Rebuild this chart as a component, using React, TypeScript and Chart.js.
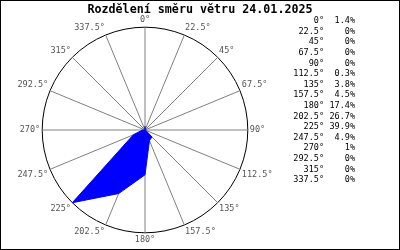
import React, { useEffect, useRef } from "react";
import { Chart, registerables } from "chart.js";

Chart.register(...registerables);

const titleText = "Rozdělení směru větru 24.01.2025";
const directions = ["0°", "22.5°", "45°", "67.5°", "90°", "112.5°", "135°", "157.5°", "180°", "202.5°", "225°", "247.5°", "270°", "292.5°", "315°", "337.5°"];
const values = [1.4, 0, 0, 0, 0, 0.3, 3.8, 4.5, 17.4, 26.7, 39.9, 4.9, 1, 0, 0, 0];
const valueLabels = ["1.4%", "0%", "0%", "0%", "0%", "0.3%", "3.8%", "4.5%", "17.4%", "26.7%", "39.9%", "4.9%", "1%", "0%", "0%", "0%"];

const MONO = '"DejaVu Sans Mono", "Liberation Mono", monospace';

const extras = {
  id: "extras",
  beforeDraw(chart: any) {
    const ctx = chart.ctx;
    ctx.save();
    ctx.fillStyle = "#ffffff";
    ctx.fillRect(0, 0, chart.width, chart.height);
    ctx.restore();
  },
  afterDraw(chart: any) {
    const ctx = chart.ctx;
    ctx.save();
    ctx.fillStyle = "#000000";
    ctx.font = `bold 11.7px ${MONO}`;
    ctx.textAlign = "center";
    ctx.textBaseline = "middle";
    ctx.fillText(titleText, 200, 10);

    ctx.font = `8.5px ${MONO}`;
    ctx.textAlign = "right";
    directions.forEach((d, i) => {
      const y = 21 + i * 10.6;
      ctx.fillText(d, 324, y);
      ctx.fillText(valueLabels[i], 355, y);
    });

    ctx.strokeStyle = "#000000";
    ctx.lineWidth = 1;
    ctx.strokeRect(0.5, 0.5, chart.width - 1, chart.height - 1);
    ctx.restore();
  },
};

export default function App() {
  const ref = useRef<HTMLCanvasElement | null>(null);
  useEffect(() => {
    document.body.style.margin = "0";
    const canvas = ref.current;
    if (!canvas) return;
    const maxV = Math.max(...values);
    const chart = new Chart(canvas, {
      type: "radar",
      data: {
        labels: directions,
        datasets: [
          {
            data: values,
            backgroundColor: "#0000ff",
            borderColor: "#0000ff",
            borderWidth: 1,
            pointRadius: 0,
            fill: true,
          },
        ],
      },
      options: {
        responsive: false,
        animation: false,
        devicePixelRatio: 1,
        layout: { padding: { left: 9, right: 119, top: 15, bottom: 5 } },
        plugins: { legend: { display: false }, tooltip: { enabled: false }, title: { display: false } },
        scales: {
          r: {
            min: 0,
            max: maxV,
            ticks: { display: false, stepSize: maxV },
            grid: { circular: true, color: "#000000", lineWidth: 1 },
            angleLines: { color: "#808080", lineWidth: 1 },
            pointLabels: { color: "#555555", font: { family: MONO, size: 8.5 }, padding: 2 },
          },
        },
      },
      plugins: [extras],
    } as any);
    return () => chart.destroy();
  }, []);
  return (
    <div style={{ width: 400, height: 250 }}>
      <canvas ref={ref} width={400} height={250} style={{ display: "block" }} />
    </div>
  );
}
